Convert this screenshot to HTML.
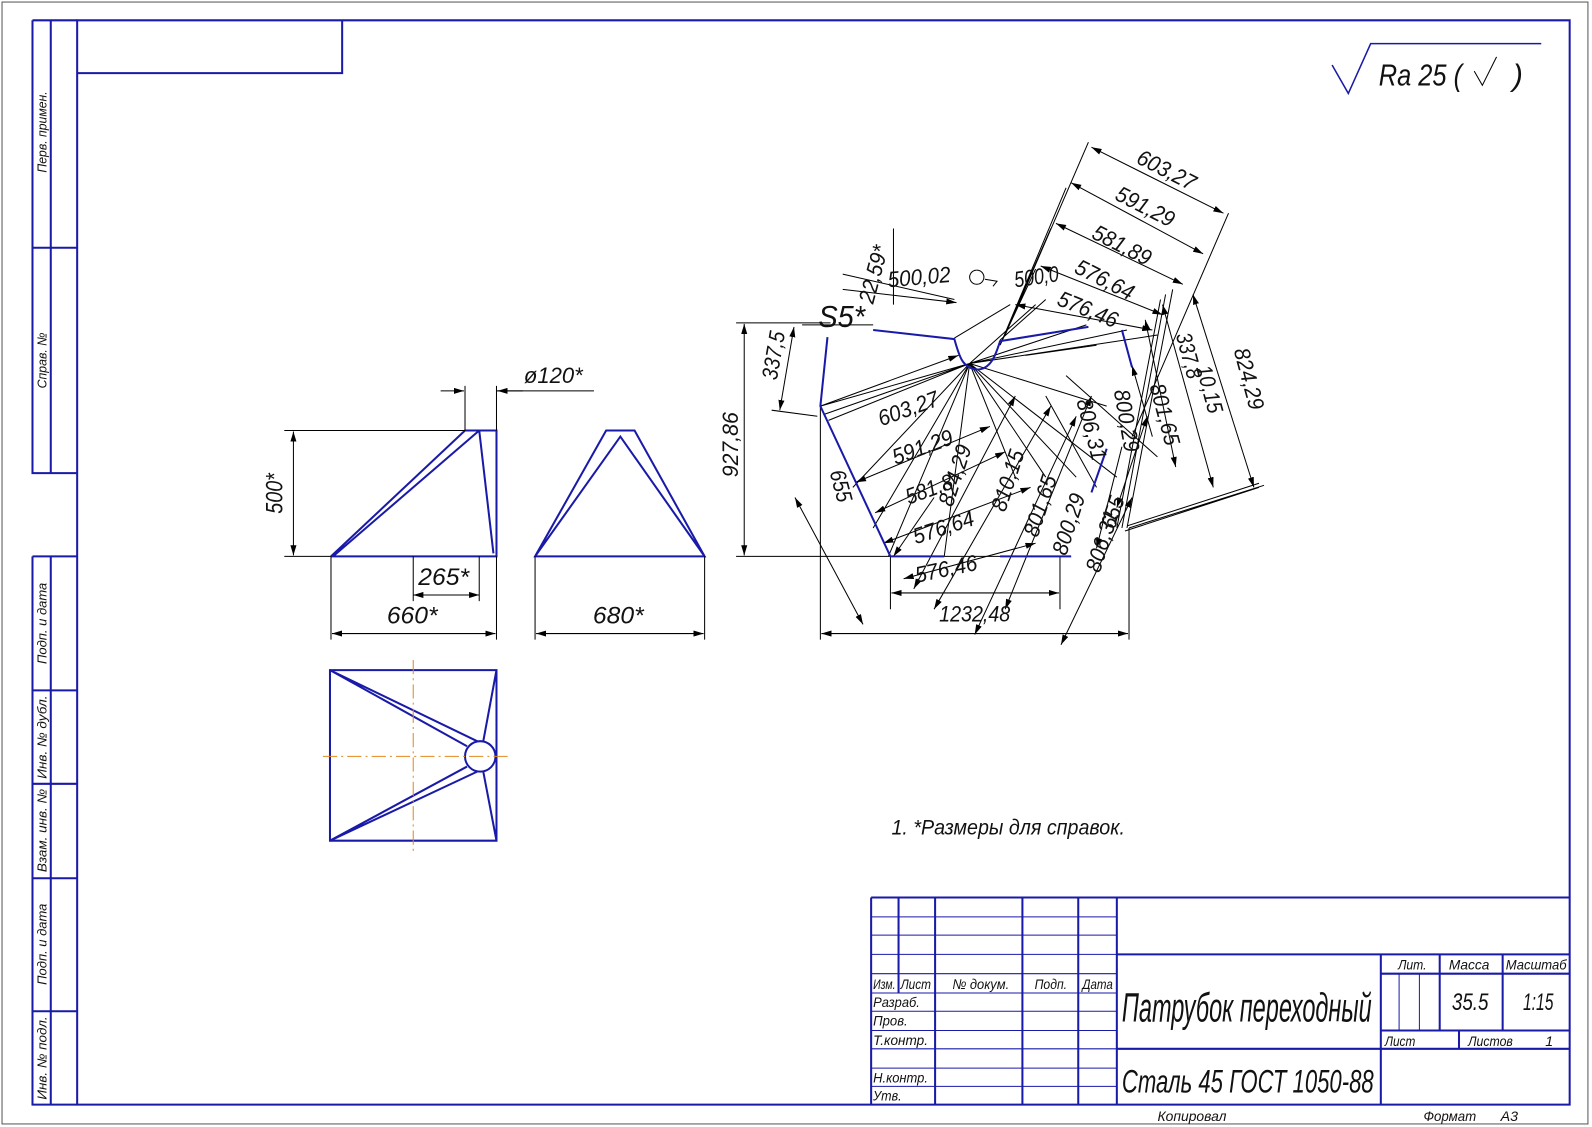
<!DOCTYPE html>
<html><head><meta charset="utf-8"><style>
html,body{margin:0;padding:0;background:#fff;width:1592px;height:1127px;overflow:hidden}
svg{display:block}
text{font-family:"Liberation Sans Narrow","Liberation Sans",sans-serif;font-style:italic;fill:#111}
.b{stroke:#1a1aa8;fill:none;stroke-width:2}
.k{stroke:#000;fill:none;stroke-width:1}
.o{stroke:#e08a1e;stroke-width:1;stroke-dasharray:14 4 2 4;fill:none}
</style></head><body>
<svg width="1592" height="1127" viewBox="0 0 1568 1110" xmlns="http://www.w3.org/2000/svg">
<defs><marker id="a" viewBox="0 0 10 6" refX="10" refY="3" markerWidth="10" markerHeight="6" orient="auto-start-reverse" markerUnits="userSpaceOnUse"><path d="M0,0 L10,3 L0,6z" fill="#000"/></marker></defs>
<rect x="2" y="2" width="1562" height="1105" fill="none" stroke="#555" stroke-width="1"/>
<path class="b" d="M76,20 H1546 V1088 H76 Z"/>
<path class="b" d="M76,72 H337 V20"/>
<path class="b" d="M32,20 V466 H76 M32,20 H76 M50,20 V466 M32,244 H76"/>
<path class="b" d="M32,548 V1088 H76 M32,548 H76 M50,548 V1088 M32,680 H76 M32,772 H76 M32,865 H76 M32,996 H76"/>
<g font-size="13">
<text transform="translate(46,130) rotate(-90)" text-anchor="middle" textLength="80" lengthAdjust="spacingAndGlyphs">Перв. примен.</text>
<text transform="translate(46,355) rotate(-90)" text-anchor="middle" textLength="55" lengthAdjust="spacingAndGlyphs">Справ. №</text>
<text transform="translate(46,614) rotate(-90)" text-anchor="middle" textLength="80" lengthAdjust="spacingAndGlyphs">Подп. и дата</text>
<text transform="translate(46,726) rotate(-90)" text-anchor="middle" textLength="82" lengthAdjust="spacingAndGlyphs">Инв. № дубл.</text>
<text transform="translate(46,818) rotate(-90)" text-anchor="middle" textLength="82" lengthAdjust="spacingAndGlyphs">Взам. инв. №</text>
<text transform="translate(46,930) rotate(-90)" text-anchor="middle" textLength="80" lengthAdjust="spacingAndGlyphs">Подп. и дата</text>
<text transform="translate(46,1042) rotate(-90)" text-anchor="middle" textLength="82" lengthAdjust="spacingAndGlyphs">Инв. № подл.</text>
</g>
<path d="M1312,64 L1328,92 L1350,43 H1518" stroke="#1a1aa8" stroke-width="1.5" fill="none"/>
<text x="1358" y="84" font-size="30" textLength="82" lengthAdjust="spacingAndGlyphs">Ra 25 (</text>
<path d="M1452,70 L1460,84 L1474,56" stroke="#000" fill="none"/>
<text x="1490" y="84" font-size="30">)</text>

<!-- front view -->
<path class="b" d="M326,548 H489 V424 H458 L326,548 M328,548 L472,424 M472,424 H489 M472,424 L486,545"/>
<path class="k" d="M458,424 V380 M489,424 V380 M489,385 H585"/>
<path class="k" d="M434,385 H457" marker-end="url(#a)"/><path class="k" d="M515,385 H490" marker-end="url(#a)"/>
<text x="516" y="377" font-size="22" textLength="58" lengthAdjust="spacingAndGlyphs">ø120*</text>
<path class="k" d="M280,424 H458 M280,548 H326"/>
<path class="k" d="M289,425 V547" marker-start="url(#a)" marker-end="url(#a)"/>
<text transform="translate(278,486) rotate(-90)" font-size="24" text-anchor="middle" textLength="40" lengthAdjust="spacingAndGlyphs">500*</text>
<path class="k" d="M326,548 V630 M489,548 V630 M407,548 V592 M472,548 V592"/>
<path class="k" d="M407,586 H472" marker-start="url(#a)" marker-end="url(#a)"/>
<text x="412" y="576" font-size="24" textLength="50" lengthAdjust="spacingAndGlyphs">265*</text>
<path class="k" d="M327,624 H488" marker-start="url(#a)" marker-end="url(#a)"/>
<text x="381" y="614" font-size="24" textLength="50" lengthAdjust="spacingAndGlyphs">660*</text>
<!-- side view -->
<path class="b" d="M527,548 H694 L625,424 H597 Z M527,548 L611,430 L694,548"/>
<path class="k" d="M527,548 V630 M694,548 V630"/>
<path class="k" d="M528,624 H693" marker-start="url(#a)" marker-end="url(#a)"/>
<text x="584" y="614" font-size="24" textLength="50" lengthAdjust="spacingAndGlyphs">680*</text>
<!-- top view -->
<path class="b" d="M325,660 H489 V828 H325 Z"/>
<circle cx="473" cy="745" r="15" class="b"/>
<path class="b" d="M325,660 L460,735 M325,660 L470,730 M325,828 L460,755 M325,828 L470,760 M489,660 L476,730 M489,828 L476,760" stroke-width="1.6"/>
<path class="o" d="M318,745 H502 M407,650 V838"/>

<!-- development -->
<g class="k">
<path d="M725,318 H818 M725,548 H1050"/>
<path d="M733,319 V547" marker-start="url(#a)" marker-end="url(#a)"/>
<path d="M808,400 V630 M1112,520 V630"/>
<path d="M809,624 H1111" marker-start="url(#a)" marker-end="url(#a)"/>
<path d="M877,548 V600 M1044,548 V600"/>
<path d="M878,584 H1043" marker-start="url(#a)" marker-end="url(#a)"/>
<path d="M790,320 H860 M805,410 L760,404"/>
<path d="M782,322 L768,404" marker-start="url(#a)" marker-end="url(#a)"/>
<path d="M880,225 V300 M830,270 L940,295"/>
<path d="M830,285 L942,298" marker-end="url(#a)"/>
<path d="M955,358 L808,400 M955,358 L812,408 M955,358 L816,414 M955,358 L840,480 M955,358 L860,520 M955,358 L875,548 M955,358 L930,548 M955,358 L1000,470 M955,358 L1030,470 M955,358 L1060,470 M955,358 L1100,470 M955,358 L1140,330 M955,358 L1110,325 M955,358 L1090,400 M955,358 L1070,320 M955,358 L1020,300"/>
<path d="M940,333 L995,300 M985,335 L1030,295"/>
<path d="M808,400 L944,350" marker-end="url(#a)"/>
<path d="M843,475 L975,420" marker-start="url(#a)" marker-end="url(#a)"/>
<path d="M862,505 L990,445" marker-start="url(#a)" marker-end="url(#a)"/>
<path d="M870,535 L1015,480" marker-start="url(#a)" marker-end="url(#a)"/>
<path d="M890,570 L1020,535" marker-start="url(#a)" marker-end="url(#a)"/>
<path d="M783,490 L850,615" marker-start="url(#a)" marker-end="url(#a)"/>
<path d="M880,548 L920,490" marker-start="url(#a)"/>
<path d="M900,580 L1000,390" marker-start="url(#a)" marker-end="url(#a)"/>
<path d="M920,600 L1035,400" marker-start="url(#a)" marker-end="url(#a)"/>
<path d="M960,625 L1060,410" marker-start="url(#a)" marker-end="url(#a)"/>
<path d="M990,600 L1075,390" marker-start="url(#a)" marker-end="url(#a)"/>
<path d="M1045,635 L1115,490" marker-start="url(#a)" marker-end="url(#a)"/>
<path d="M1010,350 L1080,340 M1050,370 L1140,450 M1030,390 L1080,480"/>
<path d="M1075,145 L1205,210" marker-start="url(#a)" marker-end="url(#a)"/>
<path d="M1055,180 L1185,250" marker-start="url(#a)" marker-end="url(#a)"/>
<path d="M1040,220 L1165,280" marker-start="url(#a)" marker-end="url(#a)"/>
<path d="M1025,262 L1145,310" marker-start="url(#a)" marker-end="url(#a)"/>
<path d="M1000,300 L1135,325" marker-start="url(#a)" marker-end="url(#a)"/>
<path d="M1072,140 L990,330 M1210,210 L1115,430 M1050,185 L985,340 M1035,225 L985,340 M1020,265 L985,340"/>
<path d="M1155,285 L1110,520 M1148,290 L1105,520 M1143,295 L1100,520"/>
<path d="M1112,520 L1245,478 M1108,523 L1240,480 M1110,518 L1240,476"/>
<path d="M1175,290 L1235,480" marker-start="url(#a)" marker-end="url(#a)"/>
<path d="M1145,300 L1195,480" marker-start="url(#a)" marker-end="url(#a)"/>
<path d="M1128,315 L1158,460" marker-start="url(#a)" marker-end="url(#a)"/>
<path d="M1115,360 L1135,430" marker-start="url(#a)"/>
<path d="M1130,410 L1100,500" marker-start="url(#a)" marker-end="url(#a)"/>
<path d="M1105,440 L1080,540" marker-end="url(#a)"/>
</g>
<path class="b" d="M860,325 L940,334 C945,352 948,362 962,364 C975,364 980,352 985,336 L1072,322 M815,332 L808,400 L877,548 M877,548 H930 M985,548 H1055 M1105,325 L1115,362 M1090,442 L1075,485"/>
<path d="M962,266 a7,7 0 1,0 0.1,0 M970,275 l12,2 -4,5" stroke="#000" fill="none"/>
<g font-size="22">
<text x="806" y="322" font-size="30" textLength="46" lengthAdjust="spacingAndGlyphs">S5*</text>
<text transform="translate(860,300) rotate(-75)" textLength="58" lengthAdjust="spacingAndGlyphs">22,59*</text>
<text transform="translate(875,283) rotate(-5)" textLength="62" lengthAdjust="spacingAndGlyphs">500,02</text>
<text transform="translate(1000,283) rotate(-8)" textLength="44" lengthAdjust="spacingAndGlyphs">500,0</text>
<text transform="translate(1118,160) rotate(27)" textLength="62" lengthAdjust="spacingAndGlyphs">603,27</text>
<text transform="translate(1097,196) rotate(27)" textLength="62" lengthAdjust="spacingAndGlyphs">591,29</text>
<text transform="translate(1074,234) rotate(27)" textLength="62" lengthAdjust="spacingAndGlyphs">581,89</text>
<text transform="translate(1057,268) rotate(27)" textLength="62" lengthAdjust="spacingAndGlyphs">576,64</text>
<text transform="translate(1040,300) rotate(22)" textLength="62" lengthAdjust="spacingAndGlyphs">576,46</text>
<text transform="translate(765,375) rotate(-80)" textLength="48" lengthAdjust="spacingAndGlyphs">337,5</text>
<text transform="translate(727,470) rotate(-90)" textLength="64" lengthAdjust="spacingAndGlyphs">927,86</text>
<text transform="translate(817,465) rotate(75)" textLength="32" lengthAdjust="spacingAndGlyphs">655</text>
<text transform="translate(868,420) rotate(-20)" textLength="62" lengthAdjust="spacingAndGlyphs">603,27</text>
<text transform="translate(882,458) rotate(-20)" textLength="62" lengthAdjust="spacingAndGlyphs">591,29</text>
<text transform="translate(895,497) rotate(-20)" textLength="48" lengthAdjust="spacingAndGlyphs">581,8</text>
<text transform="translate(938,500) rotate(-72)" textLength="62" lengthAdjust="spacingAndGlyphs">824,29</text>
<text transform="translate(902,536) rotate(-18)" textLength="62" lengthAdjust="spacingAndGlyphs">576,64</text>
<text transform="translate(990,505) rotate(-72)" textLength="62" lengthAdjust="spacingAndGlyphs">810,15</text>
<text transform="translate(1022,530) rotate(-72)" textLength="62" lengthAdjust="spacingAndGlyphs">801,65</text>
<text transform="translate(903,574) rotate(-12)" textLength="62" lengthAdjust="spacingAndGlyphs">576,46</text>
<text x="925" y="612" textLength="70" lengthAdjust="spacingAndGlyphs">1232,48</text>
<text transform="translate(1050,548) rotate(-72)" textLength="62" lengthAdjust="spacingAndGlyphs">800,29</text>
<text transform="translate(1083,565) rotate(-72)" textLength="62" lengthAdjust="spacingAndGlyphs">806,31</text>
<text transform="translate(1098,522) rotate(-72)" textLength="32" lengthAdjust="spacingAndGlyphs">655</text>
<text transform="translate(1060,395) rotate(75)" textLength="62" lengthAdjust="spacingAndGlyphs">806,31</text>
<text transform="translate(1097,385) rotate(80)" textLength="62" lengthAdjust="spacingAndGlyphs">800,29</text>
<text transform="translate(1132,380) rotate(75)" textLength="62" lengthAdjust="spacingAndGlyphs">801,65</text>
<text transform="translate(1158,330) rotate(75)" textLength="46" lengthAdjust="spacingAndGlyphs">337,8</text>
<text transform="translate(1178,362) rotate(75)" textLength="48" lengthAdjust="spacingAndGlyphs">10,15</text>
<text transform="translate(1215,345) rotate(75)" textLength="62" lengthAdjust="spacingAndGlyphs">824,29</text>
</g>
<text x="878" y="822" font-size="21" textLength="230" lengthAdjust="spacingAndGlyphs">1.  *Размеры для справок.</text>

<!-- title block -->
<g class="b" stroke-width="2">
<path d="M858,884 H1546 M858,884 V1088 M885,884 V978 M921,884 V1088 M1007,884 V1088 M1062,884 V1088 M1100,884 V1088"/>
<path d="M1100,940 H1546 M1100,1033 H1360 M1360,940 V1088 M1360,959 H1546 M1360,1015 H1546 M1360,1033 H1546 M1418,940 V1015 M1480,940 V1015 M1437,1015 V1033"/>
</g>
<g stroke="#1a1aa8" stroke-width="1" fill="none">
<path d="M858,903 H1100 M858,921 H1100 M858,940 H1100 M858,959 H1100 M858,978 H1100 M858,996 H1100 M858,1015 H1100 M858,1033 H1100 M858,1052 H1100 M858,1070 H1100 M1378,959 V1015 M1398,959 V1015"/>
</g>
<g font-size="14">
<text x="860" y="974" textLength="22" lengthAdjust="spacingAndGlyphs">Изм.</text><text x="887" y="974" textLength="30" lengthAdjust="spacingAndGlyphs">Лист</text><text x="938" y="974" textLength="56" lengthAdjust="spacingAndGlyphs">№ докум.</text><text x="1019" y="974" textLength="32" lengthAdjust="spacingAndGlyphs">Подп.</text><text x="1066" y="974" textLength="30" lengthAdjust="spacingAndGlyphs">Дата</text>
<text x="860" y="992" textLength="46" lengthAdjust="spacingAndGlyphs">Разраб.</text><text x="860" y="1010" textLength="34" lengthAdjust="spacingAndGlyphs">Пров.</text><text x="860" y="1029" textLength="54" lengthAdjust="spacingAndGlyphs">Т.контр.</text>
<text x="860" y="1066" textLength="54" lengthAdjust="spacingAndGlyphs">Н.контр.</text><text x="860" y="1084" textLength="28" lengthAdjust="spacingAndGlyphs">Утв.</text>
<text x="1377" y="955" textLength="28" lengthAdjust="spacingAndGlyphs">Лит.</text><text x="1427" y="955" textLength="40" lengthAdjust="spacingAndGlyphs">Масса</text><text x="1483" y="955" textLength="60" lengthAdjust="spacingAndGlyphs">Масштаб</text>
<text x="1364" y="1030" textLength="30" lengthAdjust="spacingAndGlyphs">Лист</text><text x="1446" y="1030" textLength="44" lengthAdjust="spacingAndGlyphs">Листов</text><text x="1522" y="1030">1</text>
<text x="1140" y="1104" textLength="68" lengthAdjust="spacingAndGlyphs">Копировал</text><text x="1402" y="1104" textLength="52" lengthAdjust="spacingAndGlyphs">Формат</text><text x="1478" y="1104">А3</text>
</g>
<text x="1105" y="1006" font-size="40" textLength="246" lengthAdjust="spacingAndGlyphs">Патрубок переходный</text>
<text x="1105" y="1076" font-size="32" textLength="248" lengthAdjust="spacingAndGlyphs">Сталь 45 ГОСТ 1050-88</text>
<text x="1430" y="995" font-size="24" textLength="36" lengthAdjust="spacingAndGlyphs">35.5</text>
<text x="1500" y="995" font-size="24" textLength="30" lengthAdjust="spacingAndGlyphs">1:15</text>
</svg>
</body></html>
